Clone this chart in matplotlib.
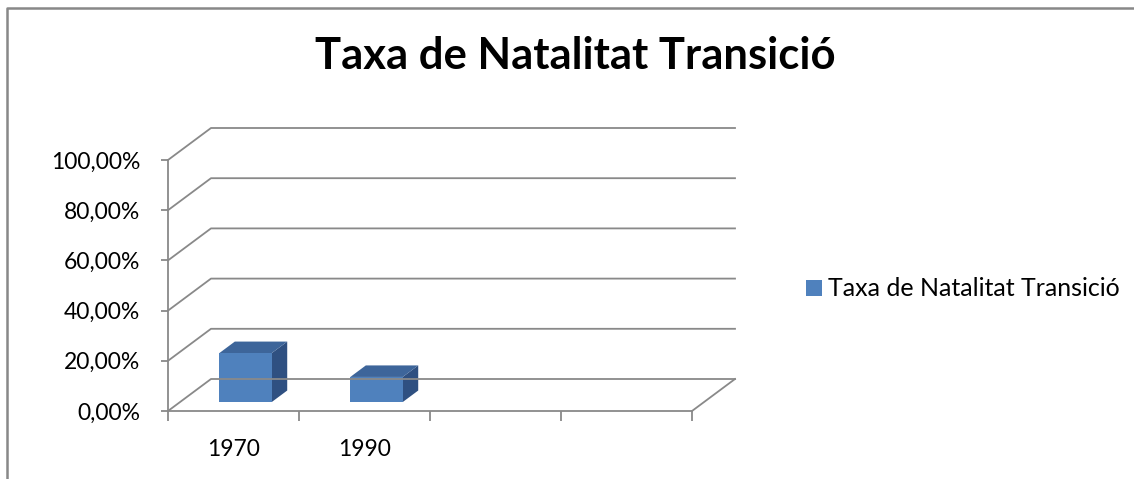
import numpy as np
import matplotlib
matplotlib.use('Agg')
import matplotlib.pyplot as plt
from matplotlib.lines import Line2D
from matplotlib.patches import Polygon, Patch
from matplotlib.transforms import IdentityTransform

# data
categories = ['1970', '1990', '', '']
values = [0.195, 0.10]
series_name = 'Taxa de Natalitat Transició'
title = 'Taxa de Natalitat Transició'
y_ticks = [0.0, 0.2, 0.4, 0.6, 0.8, 1.0]

plt.rcParams['font.family'] = ['Lato', 'DejaVu Sans']

W, H = 1134, 479
fig = plt.figure(figsize=(W / 100, H / 100), dpi=100)

# front plane of the pseudo 3d box
ax = fig.add_axes([168 / W, 1 - 411 / H, (692 - 168) / W, (411 - 160) / H])
ax.set_xlim(0, len(categories))
ax.set_ylim(0, 1)
ax.patch.set_visible(False)
for s in ['top', 'right']:
    ax.spines[s].set_visible(False)
grid_col = '#898989'
for s in ['left', 'bottom']:
    ax.spines[s].set_color(grid_col)
    ax.spines[s].set_linewidth(1.3)

ax.set_yticks(y_ticks)
ax.set_yticklabels([('%.2f%%' % (v * 100)).replace('.', ',') for v in y_ticks])
ax.tick_params(axis='y', length=5, width=1.3, color=grid_col, pad=15, labelsize=16.5)
ax.set_xticks(np.arange(len(categories) + 1))
ax.set_xticklabels([])
ax.set_xticks(np.arange(len(categories)) + 0.5, minor=True)
ax.set_xticklabels(categories, minor=True)
ax.tick_params(axis='x', which='major', length=7, width=1.3, color=grid_col)
ax.tick_params(axis='x', which='minor', length=0, pad=20, labelsize=16.5)

# depth of the box, pixels
depth = np.array([43.0, 32.0])


def proj(x, y, d):
    p = ax.transData.transform((x, y))
    return p + d * depth


def line(pts, **kw):
    pts = np.array(pts)
    ax.add_line(Line2D(pts[:, 0], pts[:, 1], transform=IdentityTransform(),
                       color=grid_col, lw=1.3, clip_on=False, **kw))


nx = len(categories)
for v in y_ticks:
    # left wall diagonal + back wall line
    line([proj(0, v, 0), proj(0, v, 1), proj(nx, v, 1)])
# floor right edge
line([proj(nx, 0, 0), proj(nx, 0, 1)])

# bars
bar_w = 0.4
d0, d1 = 0.28, 0.64
front_c = '#4F81BD'
top_c = '#3D659A'
side_c = '#2F5081'
for i, v in enumerate(values):
    x0 = i + 0.5 - bar_w / 2
    x1 = i + 0.5 + bar_w / 2
    front = [proj(x0, 0, d0), proj(x1, 0, d0), proj(x1, v, d0), proj(x0, v, d0)]
    top = [proj(x0, v, d0), proj(x1, v, d0), proj(x1, v, d1), proj(x0, v, d1)]
    side = [proj(x1, 0, d0), proj(x1, 0, d1), proj(x1, v, d1), proj(x1, v, d0)]
    for pts, c in [(side, side_c), (top, top_c), (front, front_c)]:
        ax.add_patch(Polygon(pts, closed=True, transform=IdentityTransform(),
                             facecolor=c, edgecolor='none', clip_on=False))

fig.text(575 / W, 1 - 56 / H, title, ha='center', va='center',
         fontsize=31.4, fontweight='bold')

fig.legend(handles=[Patch(facecolor=front_c, edgecolor='none', label=series_name)],
           loc='center left', bbox_to_anchor=(806 / W, 1 - 289 / H),
           frameon=False, fontsize=18, handlelength=0.62, handleheight=0.62,
           handletextpad=0.25, borderaxespad=0, borderpad=0)

# chart area border
fig.add_artist(Line2D([7 / W, 7 / W, 1.0], [0.0, 1 - 8 / H, 1 - 8 / H],
                      transform=fig.transFigure, color='#888888', lw=1.8))

fig.savefig('out.png', dpi=100)
